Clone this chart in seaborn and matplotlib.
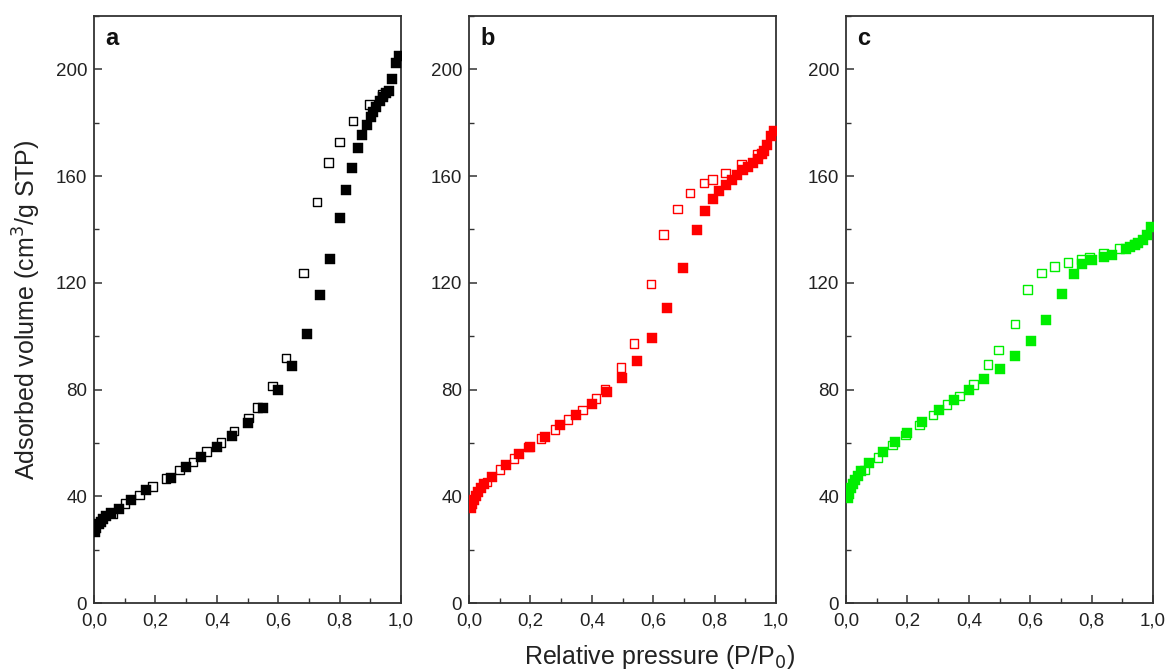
import numpy as np
import matplotlib.pyplot as plt
from matplotlib.ticker import MultipleLocator, FuncFormatter
import seaborn as sns

sns.set_theme(style='ticks')
plt.rcParams['font.family'] = ['Liberation Sans', 'DejaVu Sans']

# panel a (black)
ads_a_x = [0.003, 0.008, 0.015, 0.022, 0.03, 0.04, 0.055, 0.08, 0.12, 0.17, 0.25, 0.30, 0.35,
           0.40, 0.45, 0.50, 0.55, 0.60, 0.645, 0.695, 0.735, 0.77, 0.80, 0.82, 0.84, 0.86,
           0.872, 0.888, 0.902, 0.91, 0.92, 0.93, 0.94, 0.95, 0.96, 0.972, 0.985, 0.992]
ads_a_y = [26.5, 28, 29.5, 30.5, 31.5, 32.5, 33.8, 35.2, 38.6, 42.3, 47, 51, 54.8,
           58.5, 62.5, 67.3, 72.9, 80, 89, 101, 115.4, 129, 144.3, 154.7, 163, 170.7,
           175.3, 179.3, 182, 184, 186, 188, 189.5, 191, 192, 196.5, 202.5, 205]
des_a_x = [0.94, 0.897, 0.843, 0.80, 0.763, 0.726, 0.682, 0.625, 0.582, 0.533, 0.503, 0.456,
           0.413, 0.367, 0.323, 0.278, 0.235, 0.191, 0.148, 0.101, 0.06]
des_a_y = [190.5, 186.8, 180.6, 172.8, 165, 150.3, 123.7, 91.9, 81.4, 73.3, 69.4, 64.5,
           60.2, 56.7, 52.9, 49.8, 46.7, 43.6, 40.4, 37.3, 33.6]

# panel b (red)
ads_b_x = [0.005, 0.01, 0.015, 0.022, 0.03, 0.04, 0.05, 0.074, 0.12, 0.164, 0.2, 0.248, 0.296,
           0.348, 0.4, 0.449, 0.497, 0.546, 0.597, 0.646, 0.698, 0.742, 0.769, 0.796, 0.814,
           0.836, 0.856, 0.872, 0.894, 0.91, 0.925, 0.94, 0.953, 0.962, 0.972, 0.985, 0.992]
ads_b_y = [35.6, 37, 38.5, 40, 41.5, 43, 44.5, 47.3, 51.9, 56, 58.5, 62.3, 66.7,
           70.4, 74.5, 79.1, 84.4, 90.7, 99.5, 110.6, 125.7, 139.7, 147, 151.6, 154.3,
           156.6, 158.4, 160.3, 162.2, 163.5, 165, 166.5, 168.4, 169.5, 171.8, 175, 177]
des_b_x = [0.94, 0.888, 0.836, 0.793, 0.765, 0.72, 0.679, 0.633, 0.593, 0.537, 0.495, 0.443,
           0.413, 0.369, 0.323, 0.28, 0.235, 0.193, 0.147, 0.101, 0.058]
des_b_y = [168, 164.3, 161.2, 158.8, 157.4, 153.7, 147.6, 138.1, 119.5, 97.3, 88.3, 80,
           76.7, 72.3, 68.8, 65.1, 61.7, 58.5, 54.2, 50.1, 45.4]

# panel c (green)
ads_c_x = [0.005, 0.01, 0.015, 0.022, 0.03, 0.04, 0.05, 0.076, 0.12, 0.158, 0.198, 0.249,
           0.302, 0.351, 0.4, 0.451, 0.5, 0.55, 0.601, 0.65, 0.703, 0.743, 0.77, 0.8,
           0.841, 0.868, 0.912, 0.925, 0.94, 0.952, 0.966, 0.979, 0.993]
ads_c_y = [39.3, 41, 43, 44.5, 46, 47.5, 49.5, 52.3, 56.7, 60.4, 63.6, 68,
           72.3, 76, 79.8, 83.8, 87.6, 92.5, 98.2, 106, 115.7, 123.2, 126.9, 128.5,
           129.7, 130.6, 132.7, 133.3, 134, 135, 136, 138, 141]
des_c_x = [0.94, 0.89, 0.839, 0.794, 0.768, 0.723, 0.68, 0.637, 0.592, 0.55, 0.496, 0.462,
           0.416, 0.37, 0.329, 0.283, 0.239, 0.193, 0.151, 0.104, 0.06]
des_c_y = [134.5, 132.8, 131, 129.7, 128.7, 127.6, 126.2, 123.7, 117.5, 104.5, 94.8, 89.4,
           81.9, 77.5, 74.4, 70.4, 66.7, 62.9, 59.2, 54.6, 49.8]

panels = [
    ('a', '#000000', ads_a_x, ads_a_y, des_a_x, des_a_y),
    ('b', '#ff0000', ads_b_x, ads_b_y, des_b_x, des_b_y),
    ('c', '#00ee00', ads_c_x, ads_c_y, des_c_x, des_c_y),
]

fig = plt.figure(figsize=(11.65, 6.70), dpi=100)
lefts = [94 / 1165, 469 / 1165, 846 / 1165]
axes = [fig.add_axes([l, 67 / 670, 307 / 1165, 587 / 670]) for l in lefts]

comma = FuncFormatter(lambda v, p: f'{v:.1f}'.replace('.', ','))

for ax, (letter, col, ax_x, ax_y, dx, dy) in zip(axes, panels):
    sns.scatterplot(x=dx, y=dy, marker='s', s=38, facecolors='none', edgecolor=col,
                    linewidth=1.0, ax=ax, zorder=3)
    sns.scatterplot(x=ax_x, y=ax_y, marker='s', s=44, color=col, edgecolor=col,
                    linewidth=0.3, ax=ax, zorder=4)
    ax.set_xlim(0, 1.0)
    ax.set_ylim(0, 220)
    ax.xaxis.set_major_locator(MultipleLocator(0.2))
    ax.xaxis.set_minor_locator(MultipleLocator(0.1))
    ax.yaxis.set_major_locator(MultipleLocator(40))
    ax.yaxis.set_minor_locator(MultipleLocator(20))
    ax.xaxis.set_major_formatter(comma)
    ax.tick_params(which='major', direction='in', length=6, width=1.1, labelsize=13.5,
                   color='#333333', labelcolor='#222222')
    ax.tick_params(which='minor', direction='in', length=3.5, width=1.0, color='#333333')
    ax.tick_params(axis='x', which='major', pad=7)
    ax.tick_params(axis='y', which='major', pad=5)
    for sp in ax.spines.values():
        sp.set_visible(True)
        sp.set_linewidth(1.3)
        sp.set_color('#333333')
    ax.set_xlabel('')
    ax.set_ylabel('')
    ax.text(0.036, 0.982, letter, transform=ax.transAxes, ha='left', va='top',
            fontsize=17, fontweight='bold', color='#111111')

axes[0].set_ylabel('Adsorbed volume (cm$^3$/g STP)', fontsize=18, color='#222222')
axes[0].yaxis.set_label_coords(-0.165, 0.5)
fig.text(660 / 1165, 0.02, 'Relative pressure (P/P$_0$)', ha='center', va='center',
         fontsize=18, color='#222222')

plt.savefig('out.png', dpi=100)
plt.close()
